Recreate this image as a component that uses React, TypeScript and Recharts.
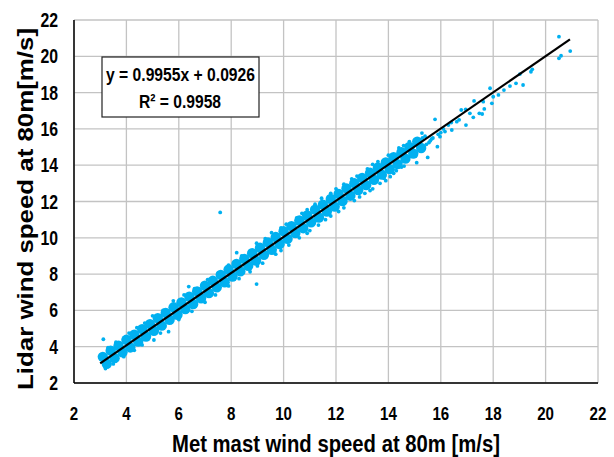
import React from 'react';
import {
  ScatterChart,
  Scatter,
  XAxis,
  YAxis,
  CartesianGrid,
} from 'recharts';

// axis ticks (m/s)
const xTicks = [2, 4, 6, 8, 10, 12, 14, 16, 18, 20, 22];
const yTicks = [2, 4, 6, 8, 10, 12, 14, 16, 18, 20, 22];

// dense core of the cloud, read along the upper and lower side of the band
const coreX = [
  3.1, 3.4, 3.7, 4.0, 4.3, 4.6, 4.9, 5.2, 5.5, 5.8, 6.1, 6.4, 6.7, 7.0, 7.3,
  7.6, 7.9, 8.2, 8.5, 8.8, 9.1, 9.4, 9.7, 10.0, 10.3, 10.6, 10.9, 11.2, 11.5,
  11.8, 12.1, 12.4, 12.7, 13.0, 13.3, 13.6, 13.9, 14.2, 14.5, 14.8, 15.1,
  3.25, 3.55, 3.85, 4.15, 4.45, 4.75, 5.05, 5.35, 5.65, 5.95, 6.25, 6.55, 6.85,
  7.15, 7.45, 7.75, 8.05, 8.35, 8.65, 8.95, 9.25, 9.55, 9.85, 10.15, 10.45,
  10.75, 11.05, 11.35, 11.65, 11.95, 12.25, 12.55, 12.85, 13.15, 13.45, 13.75,
  14.05, 14.35, 14.65, 14.95, 15.25,
];
const coreY = [
  3.44, 3.78, 4.05, 4.38, 4.66, 4.97, 5.24, 5.57, 5.86, 6.17, 6.44, 6.76, 7.05,
  7.36, 7.63, 7.96, 8.25, 8.56, 8.84, 9.15, 9.45, 9.75, 10.04, 10.36, 10.64,
  10.95, 11.23, 11.55, 11.83, 12.14, 12.42, 12.72, 13.01, 13.3, 13.58, 13.87,
  14.15, 14.44, 14.72, 15.0, 15.3,
  3.06, 3.37, 3.69, 3.96, 4.28, 4.56, 4.88, 5.16, 5.48, 5.76, 6.07, 6.35, 6.67,
  6.95, 7.27, 7.55, 7.87, 8.15, 8.46, 8.74, 9.06, 9.34, 9.66, 9.94, 10.26,
  10.53, 10.85, 11.12, 11.45, 11.72, 12.03, 12.32, 12.63, 12.9, 13.2, 13.48,
  13.78, 14.06, 14.36, 14.64, 14.95,
];

// loose points at the edges of the band, the sparse high-speed tail and outliers
const looseX = [
  3.3, 3.6, 4.1, 4.4, 4.7, 5.0, 5.4, 5.79, 6.2, 6.6, 7.1, 7.5, 7.9, 8.4, 8.97,
  9.3, 9.54, 10.1, 10.5, 10.9, 11.45, 11.8, 12.3, 12.8, 13.2, 13.6, 14.0, 14.4,
  14.8, 3.2, 3.5, 3.9, 4.3, 4.6, 5.05, 5.3, 5.61, 6.0, 6.5, 7.0, 7.4, 7.9, 8.3,
  8.72, 9.2, 9.7, 10.2, 10.6, 11.0, 11.33, 11.8, 12.3, 12.7, 13.1, 13.4, 13.68,
  13.83, 14.07, 14.3, 14.6, 15.08, 15.04, 14.58, 15.28, 15.5, 15.3, 15.6, 15.7,
  15.78, 15.87, 15.97, 16.0, 16.16, 16.29, 16.42, 16.61, 16.78, 16.96, 16.95,
  17.11, 17.24, 17.27, 17.47, 17.58, 17.62, 17.66, 17.88, 17.95, 18.0, 18.2,
  18.41, 18.64, 18.87, 19.02, 19.14, 19.44, 19.49, 20.51, 20.59, 20.51, 20.94,
  3.12, 6.38, 8.21, 7.58, 8.97, 13.76,
  9.9, 10.7, 11.2, 12.0, 12.6, 13.4, 9.0, 9.9, 10.9, 11.6, 12.1, 12.9, 13.3,
  13.9, 14.2, 14.5, 15.55, 15.65, 15.4, 15.9, 16.1, 16.4, 16.7, 15.2, 15.45,
];
const looseY = [
  3.95, 4.25, 4.75, 5.05, 5.3, 5.7, 6.0, 6.53, 6.85, 7.2, 7.7, 8.05, 8.5, 9.0,
  9.7, 9.95, 10.28, 10.75, 11.1, 11.55, 12.18, 12.45, 12.95, 13.4, 13.8, 14.2,
  14.55, 14.95, 15.3, 2.8, 3.05, 3.45, 3.8, 4.1, 4.37, 4.75, 4.83, 5.5, 5.95,
  6.45, 6.85, 7.35, 7.75, 8.13, 8.6, 9.1, 9.6, 10.0, 10.4, 10.7, 11.2, 11.65,
  12.05, 12.45, 12.7, 13.0, 13.28, 13.37, 13.7, 13.95, 14.14, 14.51, 15.08,
  15.77, 14.43, 15.5, 15.35, 15.5, 16.53, 15.02, 15.57, 15.8, 15.85, 16.21,
  15.94, 16.4, 17.04, 16.21, 17.08, 16.86, 16.64, 17.54, 16.86, 16.82, 17.5,
  17.1, 18.24, 17.41, 17.77, 17.87, 18.14, 18.36, 18.51, 19.02, 18.42, 19.15,
  19.28, 21.08, 20.03, 19.89, 20.29, 4.41, 7.31, 9.18, 11.4, 7.45, 13.57,
  10.55, 11.35, 11.85, 12.7, 13.25, 14.05, 8.45, 9.3, 10.25, 11.0, 11.45,
  12.25, 12.6, 13.15, 13.55, 13.9, 15.25, 15.45, 15.6, 15.7, 16.0, 16.35, 16.5,
  14.85, 15.15,
];

// linear fit drawn in the chart: y = 0.9955x + 0.0926
const trendX = [3.0, 20.93];
const trendY = [3.08, 20.93];

const coreData = coreX.map((x, i) => ({ x, y: coreY[i] }));
const looseData = looseX.map((x, i) => ({ x, y: looseY[i] }));
const trendData = trendX.map((x, i) => ({ x, y: trendY[i] }));

const DOT = '#00b0f0';
const FONT = '"Liberation Sans", Arial, sans-serif';

const XTick = ({ x, payload }: any) => {
  const label = String(payload.value);
  return (
    <text
      x={x}
      y={420}
      textAnchor='middle'
      fontFamily={FONT}
      fontWeight='bold'
      fontSize={19}
      fill='#000'
      textLength={label.length * 8.4}
      lengthAdjust='spacingAndGlyphs'
    >
      {label}
    </text>
  );
};

const YTick = ({ y, payload }: any) => {
  const label = String(payload.value);
  return (
    <text
      x={58}
      y={y + 7}
      textAnchor='end'
      fontFamily={FONT}
      fontWeight='bold'
      fontSize={20}
      fill='#000'
      textLength={label.length * 8.8}
      lengthAdjust='spacingAndGlyphs'
    >
      {label}
    </text>
  );
};

const CoreDot = ({ cx, cy }: any) => (
  <circle cx={cx} cy={cy} r={5.2} fill={DOT} />
);
const LooseDot = ({ cx, cy }: any) => (
  <circle cx={cx} cy={cy} r={1.9} fill={DOT} />
);

export default function App() {
  return (
    <div style={{ position: 'absolute', left: 0, top: 0, width: 614, height: 457, background: '#fff' }}>
      <ScatterChart
        width={614}
        height={457}
        margin={{ top: 20, right: 16, bottom: 0, left: 0 }}
      >
        <CartesianGrid stroke='#c3c3c3' strokeWidth={1.3} />
        <XAxis
          type='number'
          dataKey='x'
          domain={[2, 22]}
          ticks={xTicks}
          interval={0}
          tickLine={false}
          axisLine={{ stroke: '#000', strokeWidth: 1.5 }}
          tick={<XTick />}
          height={74}
          label={{
            content: () => (
              <text
                x={336}
                y={452}
                textAnchor='middle'
                fontFamily={FONT}
                fontWeight='bold'
                fontSize={23}
                fill='#000'
                textLength={328}
                lengthAdjust='spacingAndGlyphs'
              >
                Met mast wind speed at 80m [m/s]
              </text>
            ),
          }}
        />
        <YAxis
          type='number'
          dataKey='y'
          domain={[2, 22]}
          ticks={yTicks}
          interval={0}
          tickLine={false}
          axisLine={{ stroke: '#000', strokeWidth: 1.5 }}
          tick={<YTick />}
          width={74}
          label={{
            content: () => (
              <text
                x={0}
                y={0}
                transform='translate(33, 209) rotate(-90)'
                textAnchor='middle'
                fontFamily={FONT}
                fontWeight='bold'
                fontSize={22}
                fill='#000'
                textLength={362}
                lengthAdjust='spacingAndGlyphs'
              >
                Lidar wind speed at 80m[m/s]
              </text>
            ),
          }}
        />
        <Scatter data={coreData} shape={<CoreDot />} isAnimationActive={false} />
        <Scatter data={looseData} shape={<LooseDot />} isAnimationActive={false} />
        <Scatter
          data={trendData}
          line={{ stroke: '#000', strokeWidth: 2.2 }}
          shape={() => <g />}
          isAnimationActive={false}
        />
      </ScatterChart>

      {/* Trendline equation box */}
      <svg
        width={614}
        height={457}
        style={{ position: 'absolute', left: 0, top: 0, pointerEvents: 'none' }}
      >
        <rect x={102} y={57} width={157} height={60} fill='#fff' stroke='#222' strokeWidth={1.2} />
        <text
          x={180.5}
          y={81}
          textAnchor='middle'
          fontFamily={FONT}
          fontWeight='bold'
          fontSize={19}
          textLength={149}
          lengthAdjust='spacingAndGlyphs'
        >
          y = 0.9955x + 0.0926
        </text>
        <text
          x={180}
          y={108}
          textAnchor='middle'
          fontFamily={FONT}
          fontWeight='bold'
          fontSize={19}
          textLength={82}
          lengthAdjust='spacingAndGlyphs'
        >
          R² = 0.9958
        </text>
      </svg>
    </div>
  );
}
